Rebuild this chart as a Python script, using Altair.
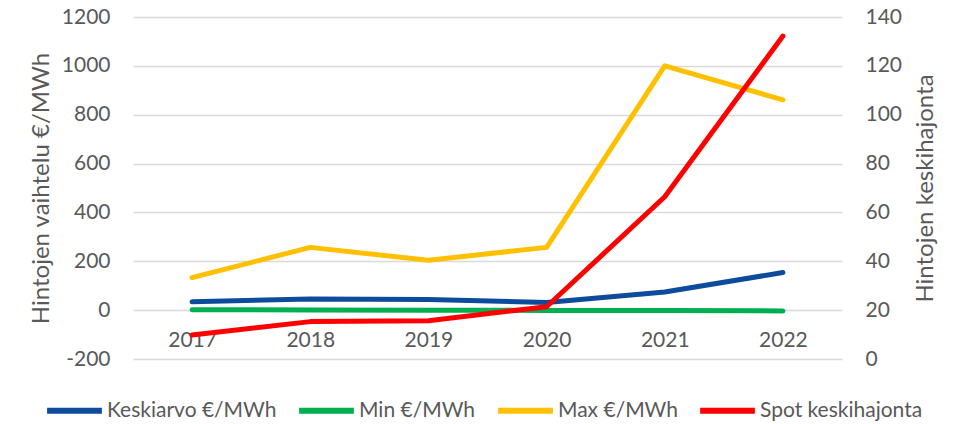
import altair as alt
import pandas as pd

years = ["2017", "2018", "2019", "2020", "2021", "2022"]
keskiarvo = [34, 46, 44, 31, 74, 154]
min_vals = [2, 1, 0, -1, -1, -3]
max_vals = [133, 257, 204, 257, 1000, 861]
spot_sd = [9.8, 15.3, 15.7, 21.4, 66.4, 132.2]

series = ["Keskiarvo €/MWh", "Min €/MWh", "Max €/MWh", "Spot keskihajonta"]
colors = ["#0D4C9C", "#00B050", "#FFC000", "#FF0000"]
left_ticks = [-200, 0, 200, 400, 600, 800, 1000, 1200]
right_ticks = [0, 20, 40, 60, 80, 100, 120, 140]

left_df = pd.DataFrame({
    "year": years * 3,
    "value": keskiarvo + min_vals + max_vals,
    "series": [series[0]] * 6 + [series[1]] * 6 + [series[2]] * 6,
})
right_df = pd.DataFrame({"year": years, "spot": spot_sd, "series": [series[3]] * 6})

x_enc = alt.X(
    "year:O", sort=years,
    axis=alt.Axis(title=None, labelAngle=0, offset=-49, ticks=False, domain=False,
                  labelPadding=19, grid=False),
)
color_scale = alt.Scale(domain=series, range=colors)

left = alt.Chart(left_df).mark_line(strokeWidth=5, strokeCap="round", strokeJoin="round").encode(
    x=x_enc,
    y=alt.Y("value:Q", scale=alt.Scale(domain=[-200, 1200], nice=False),
            axis=alt.Axis(values=left_ticks, title="Hintojen vaihtelu €/MWh", grid=True,
                          gridColor="#D9D9D9", gridWidth=1.5, domain=False, ticks=False,
                          labelPadding=23, titlePadding=8, labelExpr="'' + datum.value")),
    color=alt.Color("series:N", scale=color_scale,
                    legend=alt.Legend(title=None, orient="none", legendX=-89, legendY=363,
                                      direction="horizontal", symbolType="stroke",
                                      symbolStrokeWidth=6, symbolSize=3000, labelFontSize=21,
                                      labelLimit=400, labelColor="#595959", columnPadding=10,
                                      labelOffset=2)),
    detail="series:N",
)

right = alt.Chart(right_df).mark_line(strokeWidth=5, strokeCap="round", strokeJoin="round").encode(
    x=x_enc,
    y=alt.Y("spot:Q", scale=alt.Scale(domain=[0, 140], nice=False),
            axis=alt.Axis(orient="right", values=right_ticks, title="Hintojen keskihajonta",
                          grid=False, domain=False, ticks=False, labelPadding=23,
                          titleAngle=270, titlePadding=36, labelExpr="'' + datum.value")),
    color=alt.Color("series:N", scale=color_scale),
)

chart = alt.layer(left, right).resolve_scale(y="independent").properties(
    width=709, height=342,
    autosize=alt.AutoSizeParams(type="none"),
    padding={"left": 125, "top": 9, "right": 109, "bottom": 62},
).configure(font="Lato").configure_axis(
    labelFontSize=21, labelColor="#595959", titleFontSize=24, titleColor="#595959",
    titleFontWeight="normal",
).configure_view(stroke=None)

chart.save("out.html", embed_options={"renderer": "svg", "actions": False})
